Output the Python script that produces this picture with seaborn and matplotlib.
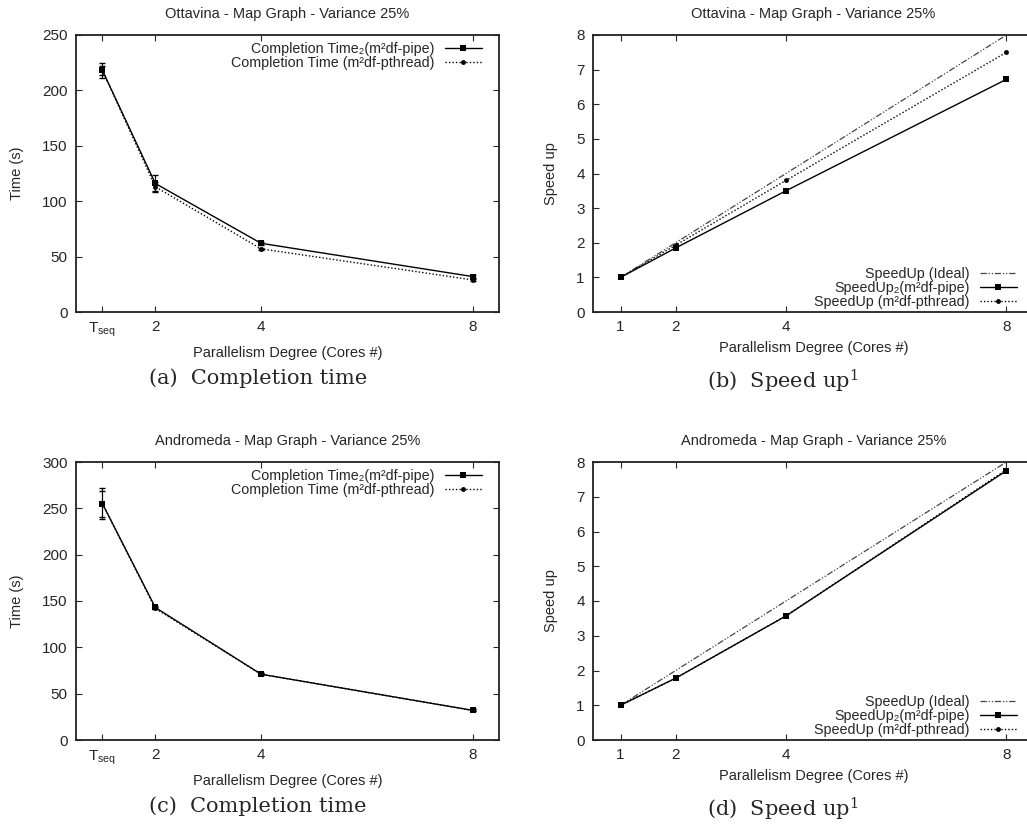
import numpy as np
import pandas as pd
import seaborn as sns
import matplotlib.pyplot as plt

cores = [1, 2, 4, 8]
time_ticklabels = ['T$_{seq}$', '2', '4', '8']
speed_ticklabels = ['1', '2', '4', '8']

# Ottavina
ott_time_pipe = [218, 116, 62, 32]
ott_time_pipe_err = [4, 8, 1.5, 1.5]
ott_time_pthread = [218, 113, 57, 29]
ott_time_pthread_err = [7, 4, 1, 1]
ott_speed_ideal = [1, 2, 4, 8]
ott_speed_pipe = [1, 1.85, 3.5, 6.72]
ott_speed_pthread = [1, 1.93, 3.8, 7.5]

# Andromeda
and_time_pipe = [255, 143, 71, 32]
and_time_pipe_err = [14, 1.5, 1, 1]
and_time_pthread = [255, 142, 71, 32]
and_time_pthread_err = [17, 1, 1, 1]
and_speed_ideal = [1, 2, 4, 8]
and_speed_pipe = [1, 1.78, 3.57, 7.75]
and_speed_pthread = [1, 1.78, 3.57, 7.78]

sns.set_style('ticks')
plt.rcParams['font.family'] = ['Liberation Sans', 'DejaVu Sans']
plt.rcParams['mathtext.default'] = 'regular'
plt.rcParams['font.size'] = 10
plt.rcParams['axes.linewidth'] = 1.3
plt.rcParams['axes.edgecolor'] = '#222222'
plt.rcParams['xtick.direction'] = 'in'
plt.rcParams['ytick.direction'] = 'in'
plt.rcParams['xtick.top'] = True
plt.rcParams['ytick.right'] = True
plt.rcParams['xtick.major.size'] = 4
plt.rcParams['ytick.major.size'] = 4
plt.rcParams['xtick.major.width'] = 0.8
plt.rcParams['ytick.major.width'] = 0.8

fig = plt.figure(figsize=(10.27, 8.32), dpi=100)
W, H = 1027, 832


def box(left, top, right, bottom):
    return [left / W, 1 - bottom / H, (right - left) / W, (bottom - top) / H]


def right_legend(ax, loc, anchor):
    leg = ax.legend(loc=loc, bbox_to_anchor=anchor, frameon=False,
                    markerfirst=False, handlelength=2.6, handletextpad=0.7,
                    labelspacing=0, borderaxespad=0, borderpad=0,
                    fontsize=10.3)
    for col in leg._legend_handle_box.get_children():
        col.align = 'right'
    return leg


def style_axes(ax, title, ylabel):
    ax.set_xlim(0.5, 8.5)
    ax.set_title(title, fontsize=10.5, pad=12)
    ax.set_xlabel('Parallelism Degree (Cores #)', fontsize=10.5, labelpad=5)
    ax.set_ylabel(ylabel, fontsize=10.5, labelpad=13)
    ax.tick_params(labelsize=11, pad=6)


def time_panel(ax, title, pipe, pipe_err, pthread, pthread_err, ymax):
    df = pd.DataFrame({'cores': cores, 'pipe': pipe, 'pthread': pthread})
    sns.lineplot(data=df, x='cores', y='pipe', ax=ax, color='black', lw=1,
                 marker='s', markersize=5, markeredgewidth=0,
                 label='Completion Time\u2082(m\u00b2df-pipe)')
    sns.lineplot(data=df, x='cores', y='pthread', ax=ax, color='black', lw=1,
                 linestyle=(0, (1, 1.5)), marker='o', markersize=3.5,
                 markeredgewidth=0, label='Completion Time (m\u00b2df-pthread)')
    ax.errorbar(cores, pipe, yerr=pipe_err, fmt='none', ecolor='black',
                elinewidth=0.8, capsize=2.5)
    ax.errorbar(cores, pthread, yerr=pthread_err, fmt='none', ecolor='black',
                elinewidth=0.8, capsize=2.5, linestyle=':')
    ax.set_ylim(0, ymax)
    ax.set_xticks(cores)
    ax.set_xticklabels(time_ticklabels)
    ax.set_yticks(np.arange(0, ymax + 1, 50))
    style_axes(ax, title, 'Time (s)')
    right_legend(ax, 'upper right', (0.96, 0.975))


def speed_panel(ax, title, ideal, pipe, pthread):
    df = pd.DataFrame({'cores': cores, 'ideal': ideal, 'pipe': pipe,
                       'pthread': pthread})
    sns.lineplot(data=df, x='cores', y='ideal', ax=ax, color='#444444', lw=0.9,
                 linestyle=(0, (5, 1.5, 1, 1.5, 1, 1.5)), label='SpeedUp (Ideal)')
    sns.lineplot(data=df, x='cores', y='pipe', ax=ax, color='black', lw=1,
                 marker='s', markersize=5, markeredgewidth=0,
                 label='SpeedUp\u2082(m\u00b2df-pipe)')
    sns.lineplot(data=df, x='cores', y='pthread', ax=ax, color='black', lw=1,
                 linestyle=(0, (1, 1.5)), marker='o', markersize=3.5,
                 markeredgewidth=0, label='SpeedUp (m\u00b2df-pthread)')
    ax.set_ylim(0, 8)
    ax.set_xticks(cores)
    ax.set_xticklabels(speed_ticklabels)
    ax.set_yticks(range(0, 9))
    style_axes(ax, title, 'Speed up')
    right_legend(ax, 'lower right', (0.961, 0.012))


ax_a = fig.add_axes(box(76, 35, 499, 312))
ax_b = fig.add_axes(box(593, 35, 1034, 312))
ax_c = fig.add_axes(box(76, 462, 499, 740))
ax_d = fig.add_axes(box(593, 462, 1034, 740))

time_panel(ax_a, 'Ottavina - Map Graph - Variance 25%', ott_time_pipe,
           ott_time_pipe_err, ott_time_pthread, ott_time_pthread_err, 250)
speed_panel(ax_b, 'Ottavina - Map Graph - Variance 25%', ott_speed_ideal,
            ott_speed_pipe, ott_speed_pthread)
time_panel(ax_c, 'Andromeda - Map Graph - Variance 25%', and_time_pipe,
           and_time_pipe_err, and_time_pthread, and_time_pthread_err, 300)
speed_panel(ax_d, 'Andromeda - Map Graph - Variance 25%', and_speed_ideal,
            and_speed_pipe, and_speed_pthread)

captions = [('(a)  Completion time', 258, 378), ('(b)  Speed up$^1$', 783, 381),
            ('(c)  Completion time', 258, 806), ('(d)  Speed up$^1$', 783, 809)]
for text, cx, cy in captions:
    fig.text(cx / W, 1 - cy / H, text, ha='center', va='center',
             family='DejaVu Serif', fontsize=15)

fig.savefig('out.png', dpi=100)
